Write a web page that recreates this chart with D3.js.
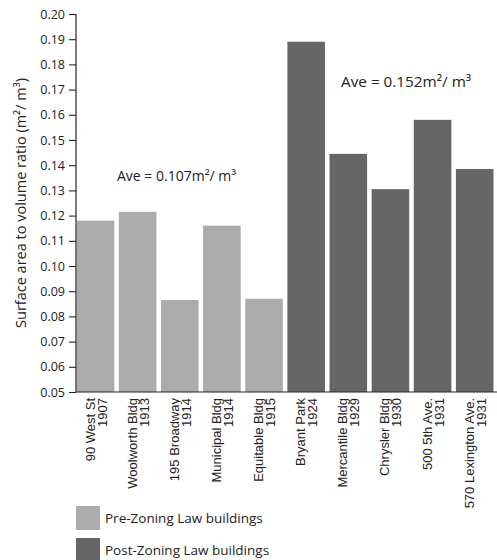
<!DOCTYPE html>
<html>
<head>
<meta charset="utf-8">
<script src="https://cdn.jsdelivr.net/npm/d3@7"></script>
<style>
  html, body { margin: 0; padding: 0; background: #fff; }
  svg { display: block; }
</style>
</head>
<body>
<script>
// ---- data ----
const buildings = ["90 West St", "Woolworth Bldg", "195 Broadway", "Municipal Bldg", "Equitable Bldg",
                   "Bryant Park", "Mercantile Bldg", "Chrysler Bldg", "500 5th Ave.", "570 Lexington Ave."];
const years = ["1907", "1913", "1914", "1914", "1915", "1924", "1929", "1930", "1931", "1931"];
const ratios = [0.118, 0.1215, 0.0865, 0.116, 0.087, 0.189, 0.1445, 0.1305, 0.158, 0.1385];
const groups = ["pre", "pre", "pre", "pre", "pre", "post", "post", "post", "post", "post"];
const yTicks = [0.05, 0.06, 0.07, 0.08, 0.09, 0.10, 0.11, 0.12, 0.13, 0.14, 0.15, 0.16, 0.17, 0.18, 0.19, 0.20];
const legendLabels = ["Pre-Zoning Law buildings", "Post-Zoning Law buildings"];
const legendKeys = ["pre", "post"];
const averages = ["Ave = 0.107m²/ m³", "Ave = 0.152m²/ m³"];
const yTitle = "Surface area to volume ratio  (m²/ m³)";

const W = 497, H = 560;
const svg = d3.select("body").append("svg").attr("width", W).attr("height", H);

const color = d3.scaleOrdinal().domain(["pre", "post"]).range(["#ababab", "#666666"]);

const x = d3.scaleBand().domain(d3.range(buildings.length)).range([76, 494.2])
  .paddingInner(0.108).paddingOuter(0.017);
const y = d3.scaleLinear().domain([0.05, 0.20]).range([392, 14]);

// bars
svg.append("g").selectAll("rect").data(ratios).join("rect")
  .attr("x", (d, i) => x(i))
  .attr("y", d => y(d))
  .attr("width", x.bandwidth())
  .attr("height", d => y(0.05) - y(d))
  .attr("fill", (d, i) => color(groups[i]));

// y axis
const yAxis = d3.axisLeft(y).tickValues(yTicks).tickFormat(d3.format(".2f")).tickSize(7).tickPadding(4);
const gy = svg.append("g").attr("transform", "translate(76,0)").call(yAxis);
gy.select(".domain").attr("stroke", "#222").attr("stroke-width", 1.2).attr("d", "M0,14V392");
gy.selectAll(".tick line").attr("stroke", "#222").attr("stroke-width", 1.1);
gy.selectAll(".tick text").attr("font-family", "Open Sans").attr("font-size", 12.5).attr("fill", "#222");

// x axis baseline
const xAxis = d3.axisBottom(x).tickSize(0).tickFormat("");
const gx = svg.append("g").attr("transform", "translate(0,392)").call(xAxis);
gx.select(".domain").attr("stroke", "#222").attr("stroke-width", 1.2).attr("d", "M76,0H497");

// x labels (rotated, two lines)
const xl = svg.append("g").selectAll("text").data(buildings).join("text")
  .attr("transform", (d, i) => `translate(${x(i) + x.bandwidth() / 2},398) rotate(-90)`)
  .attr("text-anchor", "end")
  .attr("font-family", "Liberation Sans, Arial, sans-serif")
  .attr("font-size", 13)
  .attr("fill", "#222");
xl.append("tspan").attr("x", 0).attr("y", -1).text(d => d);
xl.append("tspan").attr("x", 0).attr("y", 11).text((d, i) => years[i]);

// y title
svg.append("text")
  .attr("transform", "translate(26,203) rotate(-90)")
  .attr("text-anchor", "middle")
  .attr("font-family", "Open Sans")
  .attr("font-size", 14.5)
  .attr("fill", "#222")
  .text(yTitle);

// averages
svg.append("text").attr("x", 117).attr("y", 181)
  .attr("font-family", "Open Sans").attr("font-size", 14).attr("fill", "#222")
  .text(averages[0]);
svg.append("text").attr("x", 341).attr("y", 87)
  .attr("font-family", "Open Sans").attr("font-size", 15.3).attr("fill", "#222")
  .text(averages[1]);

// legend
const lg = svg.append("g").selectAll("g").data(legendLabels).join("g")
  .attr("transform", (d, i) => `translate(76,${506 + i * 32})`);
lg.append("rect").attr("width", 24).attr("height", 24).attr("fill", (d, i) => color(legendKeys[i]));
lg.append("text").attr("x", 29).attr("y", 17)
  .attr("font-family", "Open Sans").attr("font-size", 13.5).attr("fill", "#222")
  .text(d => d);
</script>
</body>
</html>
